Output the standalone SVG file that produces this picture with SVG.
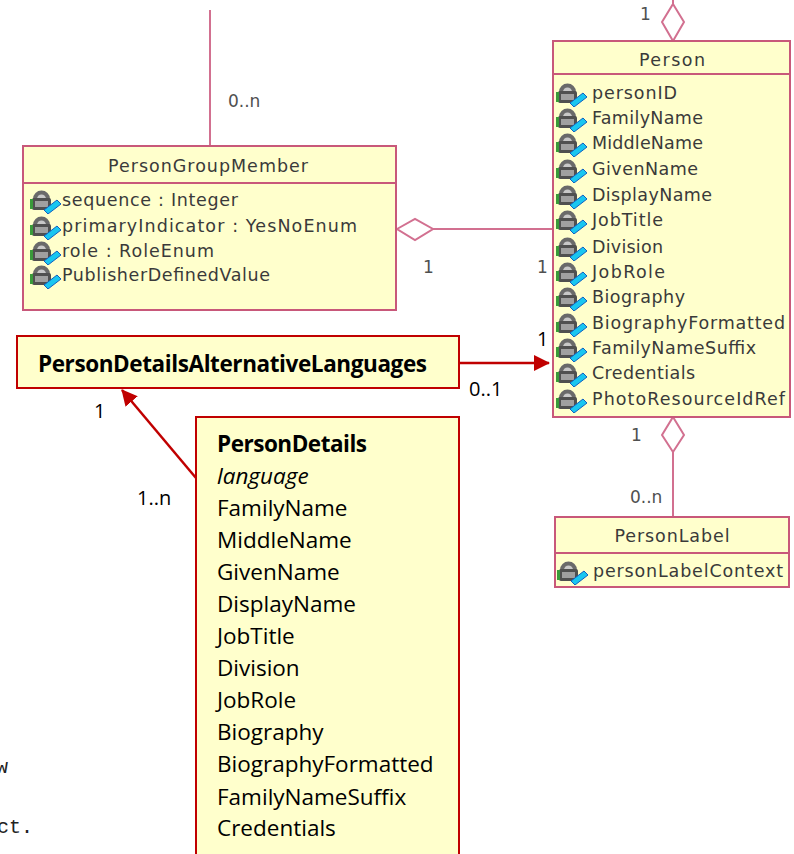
<svg xmlns="http://www.w3.org/2000/svg" xmlns:xlink="http://www.w3.org/1999/xlink" width="794" height="854" viewBox="0 0 794 854">
<style>
.uml{fill:#FFFFCC;stroke:#C8587A;stroke-width:2}
.uline{stroke:#C8587A;stroke-width:2;fill:none}
.ucon{stroke:#D27090;stroke-width:2;fill:none}
.udia{fill:#ffffff;stroke:#D27090;stroke-width:2}
.ut{font-family:"DejaVu Sans",sans-serif;font-size:17.5px;fill:#3a3a3a}
.ul{font-family:"DejaVu Sans",sans-serif;font-size:17px;fill:#505050}
.ob{fill:#FFFFCC;stroke:#C00000;stroke-width:2}
.ot{font-family:"Open Sans",sans-serif;font-size:22.5px;fill:#000}
.ol{font-family:"Open Sans",sans-serif;font-size:20px;fill:#000}
.rc{stroke:#C00000;stroke-width:2.5;fill:none}
.mono{font-family:"Liberation Mono",monospace;font-size:20px;fill:#222}
</style>
<defs>
<symbol id="ic" viewBox="0 0 36 26" width="36" height="26">
<path d="M3 11 A8.5 8.5 0 0 1 20 11 Z" fill="#6a6a6a"/>
<path d="M7 11 A4.5 4.5 0 0 1 16 11 Z" fill="#c8c8c8"/>
<rect x="2" y="10" width="19" height="12" rx="2" fill="#505050"/>
<rect x="5" y="13" width="13" height="6" fill="#a0a0a0"/>
<rect x="0" y="11" width="3" height="10" fill="#3a9a3a"/>
<path d="M14 22 L27 12 L31 16 L18 26 Z" fill="#19c6f0" stroke="#1060c0" stroke-width="1"/>
</symbol>
<marker id="ah" markerWidth="16" markerHeight="16" viewBox="0 0 16 16" refX="15" refY="8" orient="auto" markerUnits="userSpaceOnUse">
<path d="M0 0 L16 8 L0 16 Z" fill="#C00000"/>
</marker>
</defs>

<g id="connectors">
<line class="ucon" x1="210" y1="10" x2="210" y2="146"/>
<text class="ul" x="228" y="107">0..n</text>
<polygon class="udia" points="397,229 415,219 433,229 415,240"/>
<line class="ucon" x1="433" y1="229" x2="553" y2="229"/>
<text class="ul" x="423" y="273">1</text>
<text class="ul" x="537" y="273">1</text>
<line class="ucon" x1="673" y1="0" x2="673" y2="4"/>
<polygon class="udia" points="673,4 684,22 673,41 662,22"/>
<text class="ul" x="640" y="20">1</text>
<polygon class="udia" points="673,417 684,435 673,452 662,435"/>
<line class="ucon" x1="673" y1="452" x2="673" y2="517"/>
<text class="ul" x="631" y="441">1</text>
<text class="ul" x="630" y="503">0..n</text>
<line class="rc" x1="459" y1="363" x2="549" y2="363" marker-end="url(#ah)"/>
<text class="ol" x="537" y="346">1</text>
<text class="ol" x="469" y="396">0..1</text>
<line class="rc" x1="196" y1="478" x2="122" y2="390" marker-end="url(#ah)"/>
<text class="ol" x="94" y="418">1</text>
<text class="ol" x="137" y="505">1..n</text>
</g>

<g id="PersonGroupMember">
<rect class="uml" x="23" y="146" width="373" height="164"/>
<line class="uline" x1="23" y1="183" x2="396" y2="183"/>
<text class="ut" x="208" y="172" text-anchor="middle" textLength="200">PersonGroupMember</text>
<use xlink:href="#ic" x="30" y="188"/>
<text class="ut" x="62" y="206" textLength="176">sequence : Integer</text>
<use xlink:href="#ic" x="30" y="214"/>
<text class="ut" x="62" y="232" textLength="295">primaryIndicator : YesNoEnum</text>
<use xlink:href="#ic" x="30" y="239"/>
<text class="ut" x="62" y="257" textLength="152">role : RoleEnum</text>
<use xlink:href="#ic" x="30" y="263"/>
<text class="ut" x="62" y="281" textLength="208">PublisherDefinedValue</text>
</g>

<g id="Person">
<rect class="uml" x="553" y="41" width="237" height="376"/>
<line class="uline" x1="553" y1="74" x2="790" y2="74"/>
<text class="ut" x="672" y="66" text-anchor="middle" textLength="66">Person</text>
<use xlink:href="#ic" x="556" y="81"/><text class="ut" x="592" y="99" textLength="85">personID</text>
<use xlink:href="#ic" x="556" y="106"/><text class="ut" x="592" y="124" textLength="111">FamilyName</text>
<use xlink:href="#ic" x="556" y="131"/><text class="ut" x="592" y="149" textLength="111">MiddleName</text>
<use xlink:href="#ic" x="556" y="157"/><text class="ut" x="592" y="175" textLength="106">GivenName</text>
<use xlink:href="#ic" x="556" y="183"/><text class="ut" x="592" y="201" textLength="120">DisplayName</text>
<use xlink:href="#ic" x="556" y="208"/><text class="ut" x="592" y="226" textLength="71">JobTitle</text>
<use xlink:href="#ic" x="556" y="235"/><text class="ut" x="592" y="253" textLength="71">Division</text>
<use xlink:href="#ic" x="556" y="260"/><text class="ut" x="592" y="278" textLength="73">JobRole</text>
<use xlink:href="#ic" x="556" y="285"/><text class="ut" x="592" y="303" textLength="93">Biography</text>
<use xlink:href="#ic" x="556" y="311"/><text class="ut" x="592" y="329" textLength="193">BiographyFormatted</text>
<use xlink:href="#ic" x="556" y="336"/><text class="ut" x="592" y="354" textLength="164">FamilyNameSuffix</text>
<use xlink:href="#ic" x="556" y="361"/><text class="ut" x="592" y="379" textLength="103">Credentials</text>
<use xlink:href="#ic" x="556" y="387"/><text class="ut" x="592" y="405" textLength="193">PhotoResourceIdRef</text>
</g>

<g id="PersonLabel">
<rect class="uml" x="555" y="517" width="234" height="70"/>
<line class="uline" x1="555" y1="553" x2="789" y2="553"/>
<text class="ut" x="672" y="542" text-anchor="middle" textLength="115">PersonLabel</text>
<use xlink:href="#ic" x="557" y="559"/>
<text class="ut" x="593" y="577" textLength="190">personLabelContext</text>
</g>

<g id="PersonDetailsAlternativeLanguages">
<rect class="ob" x="17" y="336" width="442" height="52"/>
<text class="ot" x="38" y="372" font-weight="bold" font-size="21" textLength="389">PersonDetailsAlternativeLanguages</text>
</g>

<g id="PersonDetails">
<rect class="ob" x="196" y="417" width="263" height="450"/>
<text class="ot" x="217" y="452" font-weight="bold" textLength="150">PersonDetails</text>
<text class="ot" x="217" y="484" font-style="italic">language</text>
<text class="ot" x="217" y="516">FamilyName</text>
<text class="ot" x="217" y="548">MiddleName</text>
<text class="ot" x="217" y="580">GivenName</text>
<text class="ot" x="217" y="612">DisplayName</text>
<text class="ot" x="217" y="644">JobTitle</text>
<text class="ot" x="217" y="676">Division</text>
<text class="ot" x="217" y="708">JobRole</text>
<text class="ot" x="217" y="740">Biography</text>
<text class="ot" x="217" y="772">BiographyFormatted</text>
<text class="ot" x="217" y="805">FamilyNameSuffix</text>
<text class="ot" x="217" y="836">Credentials</text>
</g>

<text class="mono" x="-4" y="773">w</text>
<text class="mono" x="-3" y="833">ct.</text>
</svg>
